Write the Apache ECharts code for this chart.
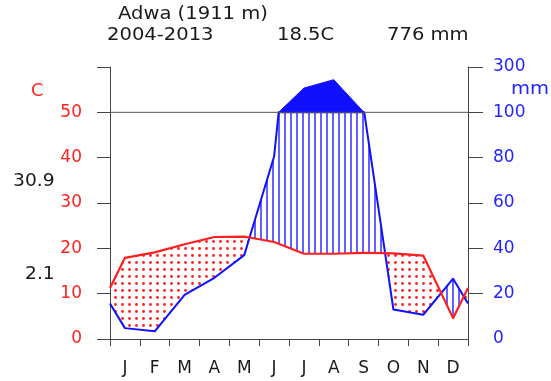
<!DOCTYPE html>
<html>
<head>
<meta charset="utf-8">
<script src="https://cdn.jsdelivr.net/npm/echarts@6/dist/echarts.min.js"></script>
<style>
  html, body { margin: 0; padding: 0; background: #ffffff; }
  #chart { width: 551px; height: 381px; }
</style>
</head>
<body>
<div id="chart"></div>
<script>
// Walter-Lieth climate diagram, Adwa station
const months = ['J', 'F', 'M', 'A', 'M', 'J', 'J', 'A', 'S', 'O', 'N', 'D'];
const temperature = [17.9, 19.1, 20.9, 22.5, 22.6, 21.4, 18.8, 18.8, 19.0, 18.9, 18.4, 4.6];     // C
const precipitation = [4.8, 3.4, 19.5, 27, 37, 80.5, 207, 244, 102, 13, 10.7, 26.6];            // mm
const tempTicks = [0, 10, 20, 30, 40, 50, 60];
const tempTickLabels = ['0', '10', '20', '30', '40', '50', ''];
const precTickLabels = ['0', '20', '40', '60', '80', '100', '300'];
const station = 'Adwa (1911 m)';
const period = '2004-2013';
const meanTemp = '18.5C';
const totalPrec = '776 mm';
const maxWarmest = '30.9';
const minColdest = '2.1';

const FONT = '"DejaVu Sans", sans-serif';
const RED = '#ff1f1f';
const BLUE = '#1010ff';

// Month centres plus the two plot edges (Dec/Jan mean wraps around)
const xs = [0].concat(months.map((m, i) => i + 0.5), [12]);
function wrap(a) {
  const e = (a[0] + a[a.length - 1]) / 2;
  return [e].concat(a, [e]);
}

// Piecewise profile with extra vertices where rain crosses the temperature
// curve or the 100 mm line, so the fills meet the lines exactly.
function buildProfile() {
  const T = wrap(temperature);
  const P = wrap(precipitation);
  const R = P.map(p => p / 2);
  const pts = [];
  for (let i = 0; i < xs.length - 1; i++) {
    const x0 = xs[i], x1 = xs[i + 1];
    const t0 = T[i], t1 = T[i + 1], r0 = R[i], r1 = R[i + 1];
    pts.push({ x: x0, t: t0, r: r0, p: P[i] });
    const fr = [];
    const d0 = r0 - t0, d1 = r1 - t1;
    if (d0 * d1 < 0) fr.push(d0 / (d0 - d1));
    const e0 = r0 - 50, e1 = r1 - 50;
    if (e0 * e1 < 0) fr.push(e0 / (e0 - e1));
    fr.sort((a, b) => a - b).forEach(f => {
      pts.push({ x: x0 + f * (x1 - x0), t: t0 + f * (t1 - t0), r: r0 + f * (r1 - r0), p: null });
    });
  }
  const n = xs.length - 1;
  pts.push({ x: xs[n], t: T[n], r: R[n], p: P[n] });
  return pts;
}

function makePattern(w, h, draw) {
  const cv = document.createElement('canvas');
  cv.width = w; cv.height = h;
  draw(cv.getContext('2d'));
  return { image: cv, repeat: 'repeat' };
}
const dotPattern = makePattern(7, 7, ctx => {
  ctx.fillStyle = RED;
  ctx.beginPath(); ctx.arc(3.5, 3.5, 1.4, 0, Math.PI * 2); ctx.fill();
});
const hatchPattern = makePattern(6, 4, ctx => {
  ctx.fillStyle = '#6262ff'; ctx.fillRect(2, 0, 2, 4);
});

function renderDiagram(params, api) {
  const pts = buildProfile();
  const c = (x, y) => api.coord([x, y]);
  const pc = p => Math.min(p.r, 50);
  const children = [];

  // dry season: temperature above rainfall
  const dry = pts.map(p => c(p.x, Math.max(p.t, pc(p))))
    .concat(pts.slice().reverse().map(p => c(p.x, pc(p))));
  children.push({ type: 'polygon', shape: { points: dry }, style: { fill: dotPattern } });

  // humid season: rainfall above temperature
  const wet = pts.map(p => c(p.x, pc(p)))
    .concat(pts.slice().reverse().map(p => c(p.x, Math.min(p.t, pc(p)))));
  children.push({ type: 'polygon', shape: { points: wet }, style: { fill: hatchPattern } });

  // months above 100 mm on the compressed scale
  let run = [];
  const flush = () => {
    if (run.length > 1) {
      const top = run.map(p => c(p.x, (p.p != null && p.p > 100) ? 50 + (p.p - 100) / 20 : 50));
      const base = run.slice().reverse().map(p => c(p.x, 50));
      children.push({ type: 'polygon', shape: { points: top.concat(base) }, style: { fill: BLUE, stroke: BLUE, lineWidth: 1 } });
    }
    run = [];
  };
  pts.forEach(p => { if (p.r >= 50 - 1e-9) run.push(p); else flush(); });
  flush();

  children.push({ type: 'polyline', shape: { points: pts.map(p => c(p.x, pc(p))) },
    style: { stroke: BLUE, lineWidth: 2, fill: null, lineJoin: 'round' } });
  children.push({ type: 'polyline', shape: { points: pts.map(p => c(p.x, p.t)) },
    style: { stroke: RED, lineWidth: 2.2, fill: null, lineJoin: 'round' } });
  children.push({ type: 'line', shape: (() => { const a = c(0, 50), b = c(12, 50); return { x1: a[0], y1: a[1], x2: b[0], y2: b[1] }; })(),
    style: { stroke: '#555555', lineWidth: 1 } });

  return { type: 'group', children };
}

const axisGrey = '#444444';
const chart = echarts.init(document.getElementById('chart'), null, { renderer: 'canvas' });

function label(text, x, y, color, scaleX) {
  return {
    type: 'text', x: x, y: y, scaleX: scaleX, z: 10,
    style: { text: text, fontSize: 17, fontFamily: FONT, fill: color, align: 'left', verticalAlign: 'middle' }
  };
}

chart.setOption({
  animation: false,
  backgroundColor: '#ffffff',
  grid: { left: 110, right: 83, top: 67, bottom: 42 },
  xAxis: [
    {
      type: 'value', min: 0, max: 12, interval: 1,
      axisLine: { show: true, onZero: false, lineStyle: { color: axisGrey, width: 1 } },
      axisTick: { show: true, length: 7, lineStyle: { color: axisGrey } },
      axisLabel: { show: false },
      splitLine: { show: false }
    },
    {
      type: 'category', data: months, position: 'bottom', boundaryGap: true,
      axisLine: { show: false }, axisTick: { show: false }, splitLine: { show: false },
      axisLabel: { margin: 21, color: '#1a1a1a', fontSize: 17, fontFamily: FONT, interval: 0 }
    }
  ],
  yAxis: [
    {
      type: 'value', position: 'left', min: 0, max: 60, interval: 10,
      axisLine: { show: true, onZero: false, lineStyle: { color: axisGrey, width: 1 } },
      axisTick: { show: true, length: 13, lineStyle: { color: axisGrey } },
      axisLabel: { margin: 28, color: RED, fontSize: 17, fontFamily: FONT,
        formatter: v => tempTickLabels[tempTicks.indexOf(v)] },
      splitLine: { show: false }
    },
    {
      type: 'value', position: 'right', min: 0, max: 60, interval: 10,
      axisLine: { show: true, onZero: false, lineStyle: { color: axisGrey, width: 1 } },
      axisTick: { show: true, length: 15, customValues: tempTicks.slice(1), lineStyle: { color: axisGrey } },
      axisLabel: { margin: 25, color: '#2424ff', fontSize: 17, fontFamily: FONT,
        formatter: v => precTickLabels[tempTicks.indexOf(v)] },
      splitLine: { show: false }
    }
  ],
  graphic: [
    label(station, 118, 15, '#1a1a1a', 1.15),
    label(period, 107, 36, '#1a1a1a', 1.15),
    label(meanTemp, 277, 36, '#1a1a1a', 1.15),
    label(totalPrec, 387, 36, '#1a1a1a', 1.15),
    label('C', 31, 92, RED, 1.05),
    label('mm', 511, 90, '#2424ff', 1.15),
    label(maxWarmest, 13, 182, '#1a1a1a', 1.1),
    label(minColdest, 25, 275, '#1a1a1a', 1.1)
  ],
  series: [
    {
      type: 'custom', coordinateSystem: 'cartesian2d', xAxisIndex: 0, yAxisIndex: 0,
      data: [[0, 0]], silent: true,
      renderItem: renderDiagram
    }
  ]
});
</script>
</body>
</html>
